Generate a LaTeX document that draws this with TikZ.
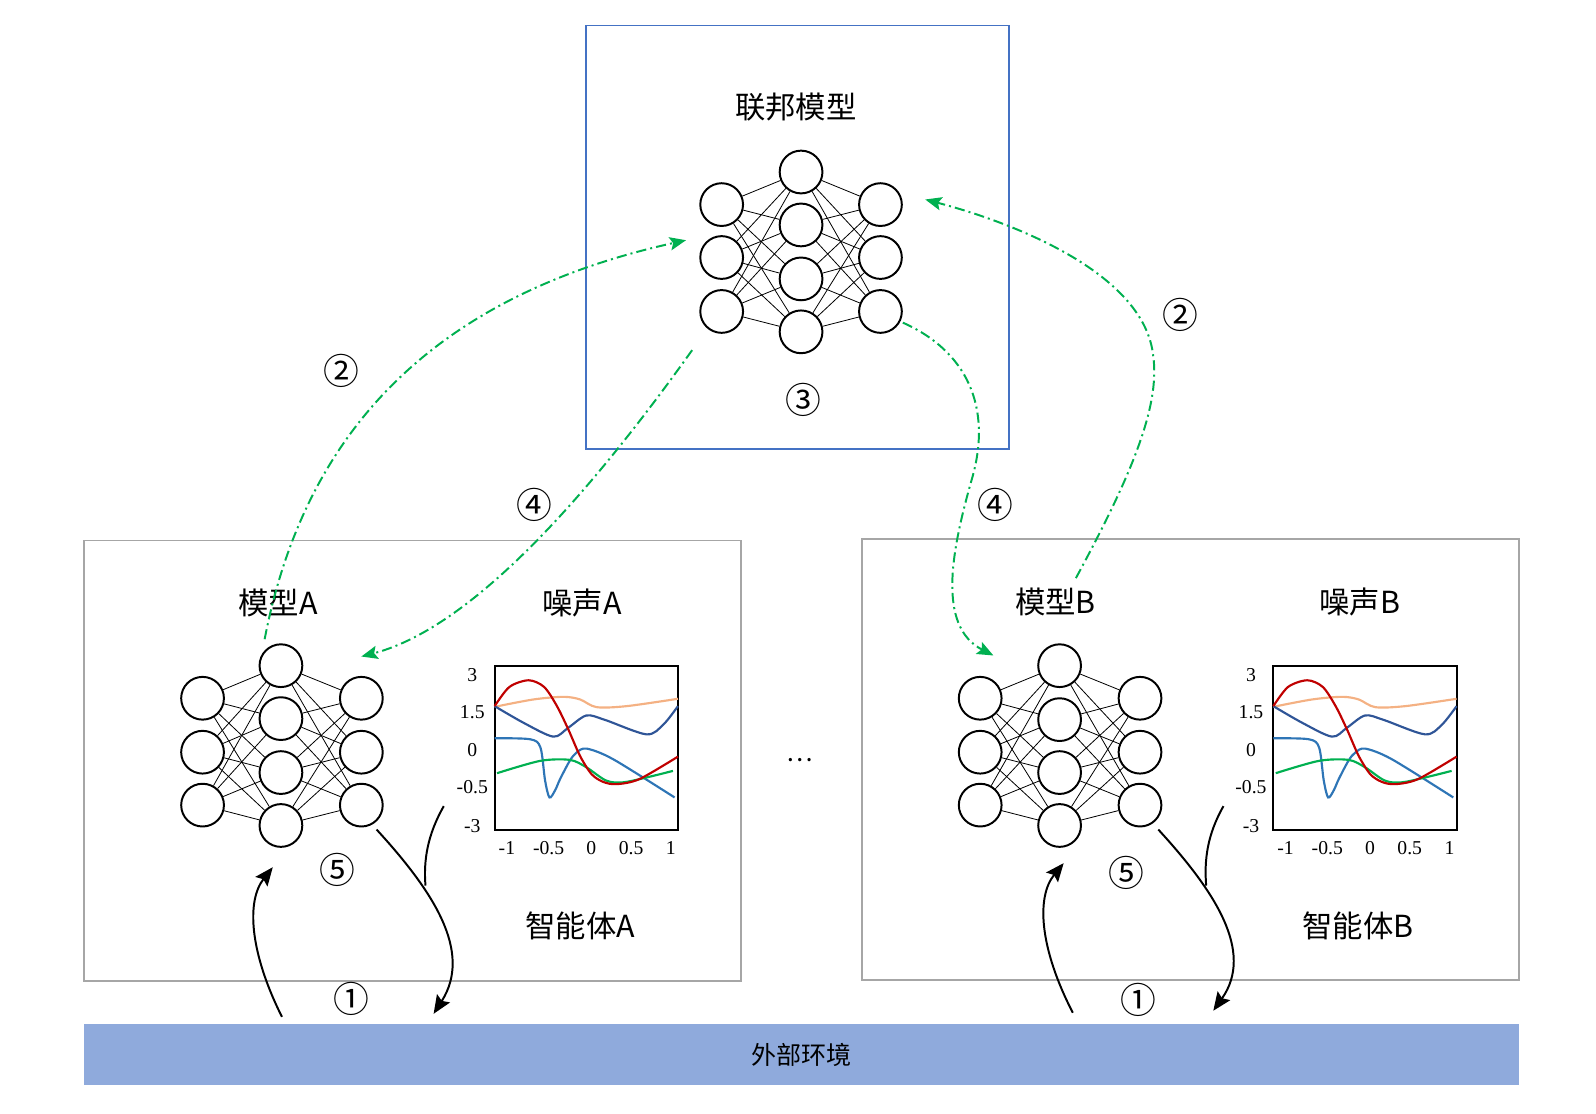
\documentclass[tikz,border=0pt]{standalone}
\usepackage{fontspec}
\setmainfont{Noto Sans CJK SC}
\newfontfamily\tickfont{Liberation Serif}
\usetikzlibrary{arrows.meta}

\definecolor{fedblue}{HTML}{4472C4}
\definecolor{boxgray}{HTML}{A6A6A6}
\definecolor{envblue}{HTML}{8FAADC}
\definecolor{fedgreen}{HTML}{00B050}
\definecolor{cred}{HTML}{C00000}
\definecolor{corange}{HTML}{F4B183}
\definecolor{cnavy}{HTML}{2F5597}
\definecolor{clblue}{HTML}{2E75B6}

\tikzset{
	neuron/.style={circle, draw, line width=1.1pt, minimum size=8.4mm, inner sep=0pt},
	link/.style={line width=0.45pt},
	bigtext/.style={font=\fontsize{17}{20}\selectfont},
	numtext/.style={font=\fontsize{20}{24}\selectfont},
	ticktext/.style={font=\tickfont\fontsize{11}{13}\selectfont},
	fedbox/.style={draw=fedblue, line width=0.9pt},
	agentbox/.style={draw=boxgray, line width=1.1pt},
	envbar/.style={fill=envblue, minimum width=281.8mm, minimum height=12mm, font=\fontsize{14}{17}\selectfont},
	plotframe/.style={line width=1.1pt},
	noise/.style={line width=1.2pt},
	greenarrow/.style={->, >={Stealth[length=3.2mm, width=2.6mm, inset=0.6mm]}, color=fedgreen, line width=1.1pt, dash pattern=on 2mm off 0.8mm on 0.4mm off 0.8mm},
	blackarrow/.style={->, >={Stealth[length=3.6mm, width=3mm, inset=0.6mm]}, line width=1.1pt},
}

% the five noise curves, in the unit square of a plot
\newcommand{\noisecurves}{
	\draw[noise, corange] plot[smooth] coordinates {(0,0.749) (0.212,0.794) (0.375,0.81) (0.466,0.794) (0.556,0.747) (0.719,0.753) (1,0.798)};
	\draw[noise, cnavy] plot[smooth] coordinates {(0,0.753) (0.16,0.65) (0.32,0.567) (0.4,0.62) (0.5,0.696) (0.6,0.67) (0.828,0.581) (0.92,0.64) (1,0.753)};
	\draw[noise, clblue] plot[smooth] coordinates {(0,0.557) (0.194,0.551) (0.25,0.5) (0.275,0.3) (0.299,0.196) (0.33,0.24) (0.357,0.308) (0.41,0.42) (0.447,0.47) (0.502,0.494) (0.647,0.429) (0.982,0.196)};
	\draw[noise, fedgreen] plot[smooth] coordinates {(0.013,0.344) (0.248,0.419) (0.411,0.425) (0.502,0.379) (0.611,0.298) (0.719,0.291) (0.973,0.358)};
	\draw[noise, cred] plot[smooth] coordinates {(0,0.753) (0.08,0.87) (0.185,0.911) (0.27,0.87) (0.34,0.753) (0.402,0.611) (0.466,0.449) (0.529,0.338) (0.592,0.291) (0.665,0.277) (0.79,0.308) (1,0.445)};
}

\begin{document}
\begin{tikzpicture}[x=0.2mm, y=-0.2mm]
	\useasboundingbox (0,0) rectangle (1568,1094);

	% boxes
	\draw[fedbox] (576,25) rectangle (991,441);
	\draw[agentbox] (83,531) rectangle (728,964);
	\draw[agentbox] (847,530) rectangle (1492,963);
	\node[envbar](env) at (787.5,1036) {外部环境};

	% federated model
	\node[bigtext](ctitle) at (782,105) {联邦模型};
	\node[neuron](cl1) at (709,201) {};
	\node[neuron](cl2) at (709,253) {};
	\node[neuron](cl3) at (709,306) {};
	\node[neuron](cm1) at (787,169) {};
	\node[neuron](cm2) at (787,221) {};
	\node[neuron](cm3) at (787,274) {};
	\node[neuron](cm4) at (787,326) {};
	\node[neuron](cr1) at (865,201) {};
	\node[neuron](cr2) at (865,253) {};
	\node[neuron](cr3) at (865,306) {};
	\node[numtext](c3) at (789,393) {③};

	% agent A
	\node[bigtext](amodel) at (273,592) {模型A};
	\node[bigtext](anoise) at (572,592) {噪声A};
	\node[bigtext](aagent) at (570,910) {智能体A};
	\node[neuron](al1) at (199,686) {};
	\node[neuron](al2) at (199,739) {};
	\node[neuron](al3) at (199,791) {};
	\node[neuron](am1) at (276,654) {};
	\node[neuron](am2) at (276,706) {};
	\node[neuron](am3) at (276,759) {};
	\node[neuron](am4) at (276,811) {};
	\node[neuron](ar1) at (355,686) {};
	\node[neuron](ar2) at (355,739) {};
	\node[neuron](ar3) at (355,791) {};

	% agent B
	\node[bigtext](bmodel) at (1037,591) {模型B};
	\node[bigtext](bnoise) at (1336,591) {噪声B};
	\node[bigtext](bagent) at (1334,910) {智能体B};
	\node[neuron](bl1) at (963,686) {};
	\node[neuron](bl2) at (963,739) {};
	\node[neuron](bl3) at (963,791) {};
	\node[neuron](bm1) at (1041,654) {};
	\node[neuron](bm2) at (1041,707) {};
	\node[neuron](bm3) at (1041,759) {};
	\node[neuron](bm4) at (1041,811) {};
	\node[neuron](br1) at (1120,686) {};
	\node[neuron](br2) at (1120,739) {};
	\node[neuron](br3) at (1120,791) {};

	\foreach \n in {c,a,b}
		\foreach \i in {1,2,3}
			\foreach \j in {1,2,3,4} {
				\draw[link](\n l\i) -- (\n m\j);
				\draw[link](\n m\j) -- (\n r\i);
			}

	\node(dots) at (786,747) {\fontsize{14}{17}\selectfont …};

	% noise plots
	\draw[plotframe] (486,654) rectangle (666,815);
	\begin{scope}[shift={(486,815)}, xscale=180, yscale=-161]
		\noisecurves
	\end{scope}
	\foreach \t/\y [count=\k] in {3/663, 1.5/700, 0/737, -0.5/773, -3/812}
		\node[ticktext](ayt\k) at (464,\y) {\t};
	\foreach \t/\x [count=\k] in {-1/498, -0.5/539, 0/581, 0.5/620, 1/659}
		\node[ticktext](axt\k) at (\x,833) {\t};

	\draw[plotframe] (1251,654) rectangle (1431,815);
	\begin{scope}[shift={(1251,815)}, xscale=180, yscale=-161]
		\noisecurves
	\end{scope}
	\foreach \t/\y [count=\k] in {3/663, 1.5/700, 0/737, -0.5/773, -3/812}
		\node[ticktext](byt\k) at (1229,\y) {\t};
	\foreach \t/\x [count=\k] in {-1/1263, -0.5/1304, 0/1346, 0.5/1385, 1/1424}
		\node[ticktext](bxt\k) at (\x,833) {\t};

	% green exchanges
	\coordinate(g1s) at (260,628);
	\coordinate(g1e) at (674,236);
	\coordinate(g2s) at (680,344);
	\coordinate(g2e) at (355,645);
	\coordinate(g3s) at (887,317);
	\coordinate(g3m) at (955,470);
	\coordinate(g3e) at (976,644);
	\coordinate(g4s) at (1057,568);
	\coordinate(g4m) at (1133,350);
	\coordinate(g4e) at (909,196);
	\draw[greenarrow](g1s) .. controls (300,420) and (430,290) .. (g1e);
	\draw[greenarrow](g2s) .. controls (590,470) and (470,615) .. (g2e);
	\draw[greenarrow](g3s) .. controls (950,345) and (975,400) .. (g3m) .. controls (935,540) and (920,615) .. (g3e);
	\draw[greenarrow](g4s) .. controls (1110,470) and (1140,400) .. (g4m) .. controls (1125,270) and (1000,220) .. (g4e);
	\node[numtext](a2) at (335,364) {②};
	\node[numtext](b2) at (1160,309) {②};
	\node[numtext](a4) at (525,496) {④};
	\node[numtext](b4) at (978,496) {④};

	% environment loops
	\coordinate(upAs) at (277,999);
	\coordinate(upAe) at (268,852);
	\coordinate(downAs) at (370,815);
	\coordinate(downAe) at (426,996);
	\coordinate(joinAs) at (436,792);
	\coordinate(joinAe) at (418,870);
	\draw[blackarrow](upAs) .. controls (245,935) and (242,885) .. (upAe);
	\draw[blackarrow](downAs) .. controls (425,875) and (465,935) .. (downAe);
	\draw[line width=1.1pt](joinAs) .. controls (420,820) and (416,845) .. (joinAe);
	\node[numtext](a5) at (331,855) {⑤};
	\node[numtext](a1) at (345,981) {①};

	\coordinate(upBs) at (1054,995);
	\coordinate(upBe) at (1045,848);
	\coordinate(downBs) at (1138,815);
	\coordinate(downBe) at (1192,993);
	\coordinate(joinBs) at (1202,792);
	\coordinate(joinBe) at (1185,870);
	\draw[blackarrow](upBs) .. controls (1021,931) and (1018,881) .. (upBe);
	\draw[blackarrow](downBs) .. controls (1193,875) and (1233,935) .. (downBe);
	\draw[line width=1.1pt](joinBs) .. controls (1186,820) and (1183,845) .. (joinBe);
	\node[numtext](b5) at (1107,858) {⑤};
	\node[numtext](b1) at (1118,982) {①};
\end{tikzpicture}
\end{document}
